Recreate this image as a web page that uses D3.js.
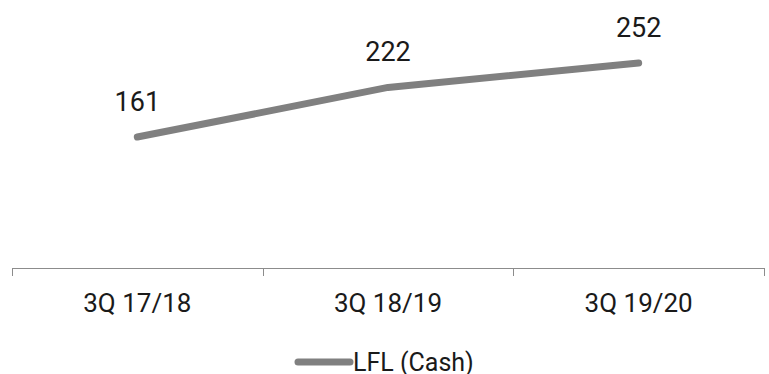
<!DOCTYPE html>
<html>
<head>
<meta charset="utf-8">
<script src="https://cdn.jsdelivr.net/npm/d3@7"></script>
<style>
  html, body { margin: 0; padding: 0; background: #fff; }
  svg { display: block; font-family: Roboto, "Noto Sans", sans-serif; }
</style>
</head>
<body>
<svg id="chart" width="769" height="374"></svg>
<script>
// Quarterly like-for-like cash figures
const categories = ["3Q 17/18", "3Q 18/19", "3Q 19/20"];
const lflCash = [161, 222, 252];
const seriesName = "LFL (Cash)";
const yDomain = [0, 300];

const width = 769, height = 374;
const margin = { top: 24, right: 5, bottom: 106, left: 12 };
const lineColor = "#808080";

const svg = d3.select("#chart");

const x = d3.scaleBand()
  .domain(categories)
  .range([margin.left, width - margin.right])
  .paddingInner(0).paddingOuter(0);

const y = d3.scaleLinear()
  .domain(yDomain)
  .range([height - margin.bottom, margin.top]);

// Category axis with ticks on the band boundaries
const axisY = height - margin.bottom;
const axisG = svg.append("g").attr("transform", `translate(0,${axisY})`);
axisG.append("line")
  .attr("x1", x.range()[0]).attr("x2", x.range()[1])
  .attr("y1", 0.5).attr("y2", 0.5)
  .attr("stroke", "#8c8c8c").attr("stroke-width", 1);
const bounds = categories.map(c => x(c)).concat([x.range()[1]]);
axisG.selectAll("line.tick")
  .data(bounds)
  .join("line")
  .attr("class", "tick")
  .attr("x1", d => Math.round(d) + 0.5).attr("x2", d => Math.round(d) + 0.5)
  .attr("y1", 0).attr("y2", 8)
  .attr("stroke", "#8c8c8c").attr("stroke-width", 1);
axisG.selectAll("text")
  .data(categories)
  .join("text")
  .attr("x", d => x(d) + x.bandwidth() / 2)
  .attr("y", 44)
  .attr("text-anchor", "middle")
  .attr("font-size", 26)
  .attr("fill", "#1a1a1a")
  .text(d => d);

// Series line
const pts = categories.map((c, i) => ({ c, v: lflCash[i] }));
const line = d3.line()
  .x(d => x(d.c) + x.bandwidth() / 2)
  .y(d => y(d.v));

svg.append("path")
  .datum(pts)
  .attr("d", line)
  .attr("fill", "none")
  .attr("stroke", lineColor)
  .attr("stroke-width", 7)
  .attr("stroke-linecap", "round")
  .attr("stroke-linejoin", "round");

// Value labels above each point
svg.selectAll("text.value")
  .data(pts)
  .join("text")
  .attr("class", "value")
  .attr("x", d => x(d.c) + x.bandwidth() / 2)
  .attr("y", d => y(d.v) - 26)
  .attr("text-anchor", "middle")
  .attr("font-size", 27)
  .attr("fill", "#1a1a1a")
  .text(d => d.v);

// Legend
const lg = svg.append("g").attr("transform", "translate(298,362)");
lg.append("line")
  .attr("x1", 0).attr("x2", 52)
  .attr("y1", 0).attr("y2", 0)
  .attr("stroke", lineColor)
  .attr("stroke-width", 7)
  .attr("stroke-linecap", "round");
lg.append("text")
  .attr("x", 55)
  .attr("y", 0)
  .attr("dy", "0.35em")
  .attr("font-size", 25)
  .attr("fill", "#1a1a1a")
  .text(seriesName);
</script>
</body>
</html>
